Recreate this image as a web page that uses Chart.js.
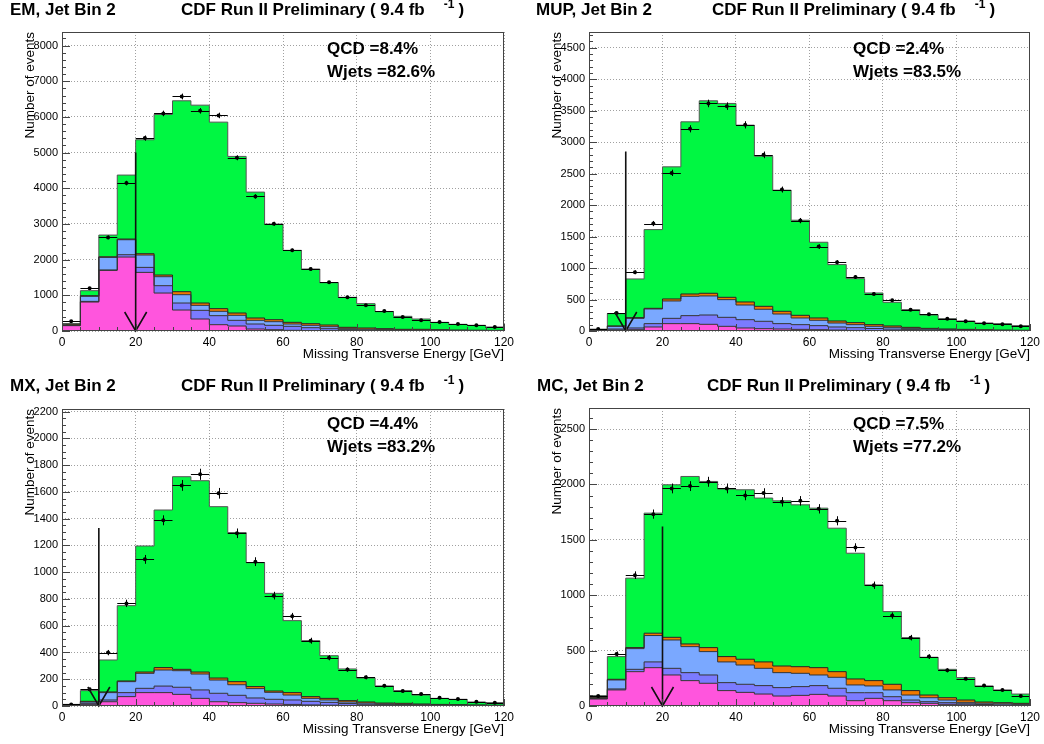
<!DOCTYPE html>
<html>
<head>
<meta charset="utf-8">
<title>CDF Run II Preliminary - Missing Transverse Energy, Jet Bin 2</title>
<script src="https://cdn.jsdelivr.net/npm/chart.js@4.4.0/dist/chart.umd.min.js"></script>
<style>
    body { margin: 0; background: #fff; }
    canvas { position: absolute; }
</style>
</head>
<body>
<canvas id="em-chart" width="520" height="372" style="left:0;top:0"></canvas>
<canvas id="mup-chart" width="524" height="372" style="left:520px;top:0"></canvas>
<canvas id="mx-chart" width="520" height="372" style="left:0;top:372px"></canvas>
<canvas id="mc-chart" width="524" height="372" style="left:520px;top:372px"></canvas>
<script>
// bin edges in GeV (24 bins of 5 GeV)
var binEdges = [0, 5, 10, 15, 20, 25, 30, 35, 40, 45, 50, 55, 60, 65, 70, 75, 80, 85, 90, 95, 100, 105, 110, 115, 120];
var xTicks = [0, 20, 40, 60, 80, 100, 120];

// each array = top edge of that layer in the stack
// EM
var emYTicks = [0, 1000, 2000, 3000, 4000, 5000, 6000, 7000, 8000];
var emPink   = [150, 812, 1699, 2073, 1643, 1064, 588, 336, 177, 140, 56, 37, 19, 9, 6, 4, 3, 2, 2, 1, 1, 0, 0, 0];
var emViolet = [160, 830, 1710, 2138, 1783, 1270, 784, 579, 430, 299, 196, 159, 131, 93, 65, 37, 25, 18, 12, 9, 6, 4, 3, 2];
var emBlue   = [170, 971, 2063, 2558, 2129, 1522, 1018, 719, 551, 439, 299, 261, 196, 159, 121, 65, 50, 38, 28, 22, 16, 12, 9, 7];
var emOrange = [195, 990, 2080, 2577, 2166, 1569, 1102, 784, 626, 504, 364, 317, 243, 205, 168, 103, 84, 65, 47, 47, 37, 28, 22, 18];
var emTotal  = [200, 1130, 2689, 4370, 5360, 6069, 6452, 6330, 5854, 4893, 3893, 2997, 2260, 1737, 1354, 943, 766, 542, 411, 336, 243, 187, 159, 112];
var emData   = [271, 1195, 2624, 4146, 5406, 6097, 6573, 6172, 6041, 4855, 3772, 3006, 2260, 1737, 1363, 943, 719, 560, 392, 299, 252, 196, 159, 112];

// MUP
var mupYTicks = [0, 500, 1000, 1500, 2000, 2500, 3000, 3500, 4000, 4500];
var mupPink   = [3, 16, 21, 64, 117, 117, 106, 74, 48, 37, 32, 26, 21, 15, 10, 8, 6, 4, 3, 2, 2, 1, 1, 1];
var mupViolet = [8, 32, 48, 117, 201, 244, 254, 217, 180, 154, 117, 101, 85, 64, 53, 40, 30, 22, 16, 12, 9, 6, 5, 4];
var mupBlue   = [15, 74, 201, 350, 477, 551, 557, 498, 413, 345, 270, 207, 170, 127, 101, 74, 58, 42, 30, 22, 16, 12, 9, 7];
var mupOrange = [25, 80, 212, 360, 509, 588, 599, 535, 461, 392, 313, 249, 207, 159, 133, 101, 80, 58, 42, 32, 26, 20, 15, 12];
var mupTotal  = [28, 276, 827, 1611, 2608, 3323, 3657, 3615, 3270, 2777, 2237, 1760, 1410, 1055, 832, 604, 456, 339, 254, 196, 159, 127, 117, 85];
var mupData   = [32, 286, 933, 1707, 2512, 3212, 3615, 3572, 3275, 2798, 2247, 1754, 1341, 1092, 859, 588, 488, 339, 265, 196, 154, 122, 106, 74];

// MX
var mxYTicks = [0, 200, 400, 600, 800, 1000, 1200, 1400, 1600, 1800, 2000, 2200];
var mxPink   = [2, 10, 32, 70, 100, 100, 87, 57, 32, 25, 20, 15, 12, 8, 6, 4, 3, 2, 2, 1, 1, 1, 0, 0];
var mxViolet = [4, 20, 45, 100, 132, 149, 140, 120, 95, 80, 60, 50, 45, 35, 27, 18, 13, 10, 8, 6, 4, 3, 2, 2];
var mxBlue   = [6, 30, 100, 182, 244, 269, 264, 239, 194, 159, 130, 102, 82, 57, 45, 30, 22, 16, 12, 9, 7, 5, 4, 3];
var mxOrange = [10, 35, 105, 187, 254, 287, 274, 254, 209, 182, 145, 112, 100, 70, 57, 40, 30, 22, 20, 15, 12, 10, 8, 6];
var mxTotal  = [12, 115, 344, 750, 1196, 1465, 1714, 1684, 1490, 1296, 1071, 842, 638, 488, 376, 277, 209, 150, 115, 82, 57, 50, 30, 25];
var mxData   = [12, 125, 399, 767, 1096, 1388, 1649, 1732, 1590, 1291, 1079, 825, 670, 488, 361, 272, 214, 152, 112, 90, 62, 52, 32, 25];

// MC
var mcYTicks = [0, 500, 1000, 1500, 2000, 2500];
var mcPink   = [63, 145, 310, 346, 280, 229, 205, 139, 123, 108, 90, 96, 105, 90, 48, 69, 48, 30, 24, 15, 10, 6, 4, 3];
var mcViolet = [68, 154, 331, 398, 340, 301, 280, 211, 196, 184, 166, 175, 184, 160, 120, 120, 84, 54, 39, 30, 20, 14, 10, 8];
var mcBlue   = [72, 235, 518, 636, 596, 536, 491, 398, 370, 340, 301, 295, 280, 259, 190, 181, 145, 99, 75, 54, 33, 25, 20, 15];
var mcOrange = [78, 241, 527, 657, 620, 560, 527, 446, 422, 398, 361, 355, 346, 310, 244, 229, 196, 139, 99, 75, 54, 36, 30, 24];
var mcTotal  = [93, 446, 1154, 1741, 1997, 2072, 2027, 1958, 1952, 1877, 1852, 1816, 1786, 1605, 1379, 1093, 852, 617, 440, 331, 256, 181, 145, 108];
var mcData   = [90, 470, 1181, 1732, 1964, 1985, 2024, 1964, 1901, 1922, 1843, 1852, 1780, 1672, 1431, 1090, 816, 617, 446, 322, 247, 184, 145, 90];

var FONT = '"Liberation Sans", Arial, Helvetica, sans-serif';

var panels = [
    { id: 'em-chart', name: 'EM, Jet Bin 2', nameX: 10, cdfX: 181, titleY: 10,
      plot: { left: 62, top: 32, right: 504, bottom: 331 },
      yMax: 8380, yTicks: emYTicks, yMinor: 200, ytitleX: 30,
      qcd: 'QCD =8.4%', wjets: 'Wjets =82.6%', textX: 327, textY: 49,
      cutX: 20, cutTop: 5000,
      layers: [emPink, emViolet, emBlue, emOrange, emTotal], data: emData },
    { id: 'mup-chart', name: 'MUP, Jet Bin 2', nameX: 16, cdfX: 192, titleY: 10,
      plot: { left: 69, top: 32, right: 510, bottom: 331 },
      yMax: 4750, yTicks: mupYTicks, yMinor: 100, ytitleX: 37,
      qcd: 'QCD =2.4%', wjets: 'Wjets =83.5%', textX: 333, textY: 49,
      cutX: 10, cutTop: 2850,
      layers: [mupPink, mupViolet, mupBlue, mupOrange, mupTotal], data: mupData },
    { id: 'mx-chart', name: 'MX, Jet Bin 2', nameX: 10, cdfX: 181, titleY: 14,
      plot: { left: 62, top: 37, right: 504, bottom: 334 },
      yMax: 2220, yTicks: mxYTicks, yMinor: 50, ytitleX: 30,
      qcd: 'QCD =4.4%', wjets: 'Wjets =83.2%', textX: 327, textY: 52,
      cutX: 10, cutTop: 1330,
      layers: [mxPink, mxViolet, mxBlue, mxOrange, mxTotal], data: mxData },
    { id: 'mc-chart', name: 'MC, Jet Bin 2', nameX: 17, cdfX: 187, titleY: 14,
      plot: { left: 69, top: 36, right: 510, bottom: 334 },
      yMax: 2690, yTicks: mcYTicks, yMinor: 100, ytitleX: 37,
      qcd: 'QCD =7.5%', wjets: 'Wjets =77.2%', textX: 333, textY: 52,
      cutX: 20, cutTop: 1620,
      layers: [mcPink, mcViolet, mcBlue, mcOrange, mcTotal], data: mcData }
];

var layerColors = ['#ff55dd', '#7b7bff', '#7aa8ff', '#f07800', '#00f742'];
var layerBorders = ['#333', '#333', '#333', '#222', '#555'];

// histogram as a stepped line: point at each lower edge + closing point at 120
function stepPoints(values) {
    var pts = values.map(function (v, i) { return { x: binEdges[i], y: v }; });
    pts.push({ x: binEdges[values.length], y: values[values.length - 1] });
    return pts;
}

function makeDecor(p) {
    return {
        id: 'decor',
        afterDatasetsDraw: function (chart) {
            var ctx = chart.ctx, xs = chart.scales.x, ys = chart.scales.y;
            ctx.save();
            // data error bars
            ctx.strokeStyle = '#000';
            ctx.lineWidth = 1;
            p.data.forEach(function (d, i) {
                var x0 = xs.getPixelForValue(binEdges[i]);
                var x1 = xs.getPixelForValue(binEdges[i + 1]);
                var xc = xs.getPixelForValue(binEdges[i] + 2.5);
                var yv = Math.round(ys.getPixelForValue(d)) + 0.5;
                var err = Math.sqrt(d);
                ctx.beginPath();
                ctx.moveTo(x0, yv);
                ctx.lineTo(x1, yv);
                ctx.moveTo(Math.round(xc) + 0.5, ys.getPixelForValue(d + err));
                ctx.lineTo(Math.round(xc) + 0.5, ys.getPixelForValue(Math.max(d - err, 0)));
                ctx.stroke();
            });
            // cut arrow
            var ax = xs.getPixelForValue(p.cutX);
            var ay0 = ys.getPixelForValue(0);
            ctx.strokeStyle = '#111';
            ctx.lineWidth = 1.6;
            ctx.beginPath();
            ctx.moveTo(ax, ys.getPixelForValue(p.cutTop));
            ctx.lineTo(ax, ay0);
            ctx.moveTo(ax - 11, ay0 - 19);
            ctx.lineTo(ax, ay0);
            ctx.lineTo(ax + 11, ay0 - 19);
            ctx.stroke();
            ctx.restore();
        },
        afterDraw: function (chart) {
            var ctx = chart.ctx, xs = chart.scales.x, ys = chart.scales.y;
            var a = chart.chartArea;
            ctx.save();
            // frame
            ctx.strokeStyle = '#444';
            ctx.lineWidth = 1;
            ctx.strokeRect(Math.round(a.left) + 0.5, Math.round(a.top) + 0.5,
                Math.round(a.right - a.left) - 1, Math.round(a.bottom - a.top) - 1);
            // inward ticks
            var major = p.yTicks[1] - p.yTicks[0];
            ctx.beginPath();
            for (var v = 0; v <= p.yMax; v += p.yMinor) {
                var py = Math.round(ys.getPixelForValue(v)) + 0.5;
                var len = (v % major === 0) ? 8 : 4;
                ctx.moveTo(a.left, py);
                ctx.lineTo(a.left + len, py);
            }
            for (var g = 0; g <= 120; g += 5) {
                var px = Math.round(xs.getPixelForValue(g)) + 0.5;
                var l2 = (g % 20 === 0) ? 7 : 4;
                ctx.moveTo(px, a.bottom);
                ctx.lineTo(px, a.bottom - l2);
            }
            ctx.stroke();

            ctx.fillStyle = '#000';
            ctx.textBaseline = 'middle';
            // panel titles
            ctx.font = 'bold 17px ' + FONT;
            ctx.textAlign = 'left';
            ctx.fillText(p.name, p.nameX, p.titleY);
            var cdf = 'CDF Run II Preliminary ( 9.4 fb';
            ctx.fillText(cdf, p.cdfX, p.titleY);
            var supX = p.cdfX + ctx.measureText(cdf).width + 19;
            ctx.font = 'bold 12px ' + FONT;
            ctx.fillText('-1', supX, p.titleY - 5);
            var closeX = supX + ctx.measureText('-1').width + 4;
            ctx.font = 'bold 17px ' + FONT;
            ctx.fillText(')', closeX, p.titleY);
            // fractions
            ctx.fillText(p.qcd, p.textX, p.textY);
            ctx.fillText(p.wjets, p.textX, p.textY + 23);
            // axis titles
            ctx.font = '13.5px ' + FONT;
            ctx.textAlign = 'right';
            ctx.fillText('Missing Transverse Energy [GeV]', a.right, a.bottom + 23);
            ctx.translate(p.ytitleX, a.top);
            ctx.rotate(-Math.PI / 2);
            ctx.fillText('Number of events', 0, 0);
            ctx.restore();
        }
    };
}

panels.forEach(function (p) {
    var canvas = document.getElementById(p.id);
    var W = canvas.width, H = canvas.height;

    var datasets = p.layers.map(function (values, k) {
        return {
            data: stepPoints(values),
            stepped: true,
            backgroundColor: layerColors[k],
            borderColor: layerBorders[k],
            borderWidth: 1,
            pointRadius: 0,
            fill: k === 0 ? 'origin' : '-1',
            order: 1
        };
    });
    datasets.push({
        data: p.data.map(function (d, i) { return { x: binEdges[i] + 2.5, y: d }; }),
        showLine: false,
        pointRadius: 2,
        pointBackgroundColor: '#000',
        pointBorderColor: '#000',
        pointBorderWidth: 0,
        fill: false,
        order: 0
    });

    new Chart(canvas.getContext('2d'), {
        type: 'line',
        data: { datasets: datasets },
        options: {
            responsive: false,
            animation: false,
            devicePixelRatio: 1,
            layout: { padding: { left: 0, top: p.plot.top, right: W - p.plot.right, bottom: 0 } },
            plugins: {
                legend: { display: false },
                tooltip: { enabled: false },
                filler: { drawTime: 'beforeDatasetsDraw', propagate: false }
            },
            scales: {
                x: {
                    type: 'linear', min: 0, max: 120,
                    afterFit: function (scale) { scale.height = H - p.plot.bottom; },
                    afterBuildTicks: function (scale) {
                        scale.ticks = xTicks.map(function (v) { return { value: v }; });
                    },
                    ticks: { autoSkip: false, maxRotation: 0, padding: 4,
                             color: '#000', font: { family: FONT, size: 12 } },
                    grid: { color: '#a0a0a0', lineWidth: 1, drawTicks: false },
                    border: { display: false, dash: [1, 2] }
                },
                y: {
                    type: 'linear', min: 0, max: p.yMax,
                    afterFit: function (scale) { scale.width = p.plot.left; },
                    afterBuildTicks: function (scale) {
                        scale.ticks = p.yTicks.map(function (v) { return { value: v }; });
                    },
                    ticks: { autoSkip: false, padding: 4,
                             color: '#000', font: { family: FONT, size: 11 },
                             callback: function (v) { return String(v); } },
                    grid: { color: '#a0a0a0', lineWidth: 1, drawTicks: false },
                    border: { display: false, dash: [1, 2] }
                }
            }
        },
        plugins: [makeDecor(p)]
    });
});
</script>
</body>
</html>
